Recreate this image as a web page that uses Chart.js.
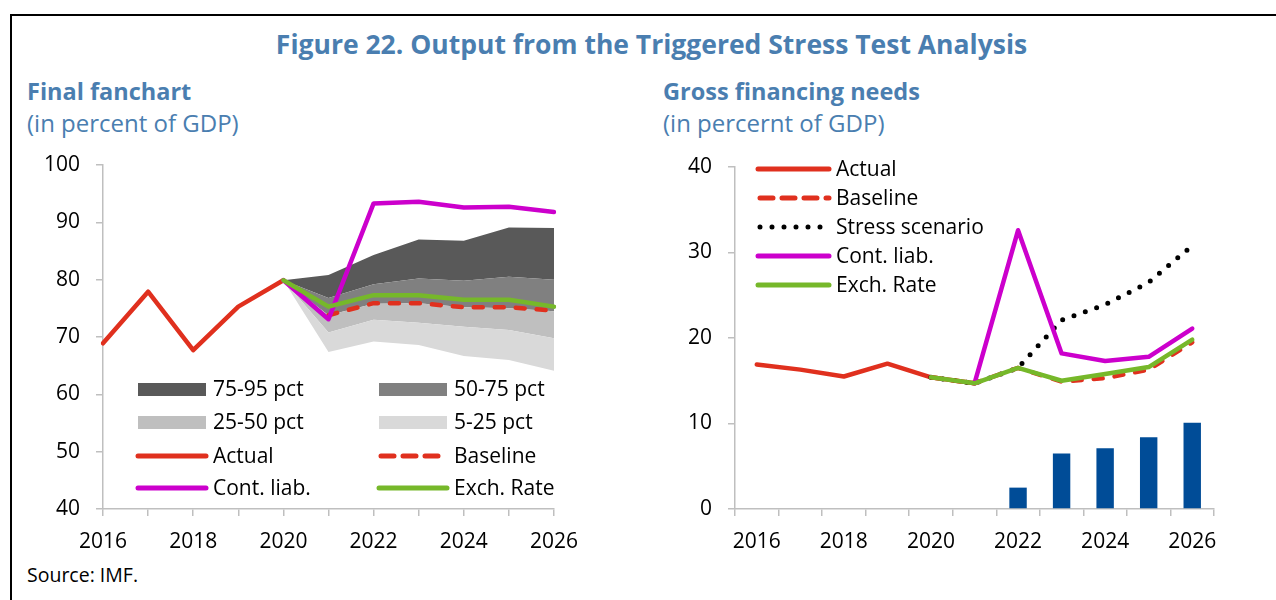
<!DOCTYPE html>
<html>
<head>
<meta charset="utf-8">
<script src="https://cdn.jsdelivr.net/npm/chart.js@4.4.1/dist/chart.umd.min.js"></script>
<style>
  body { margin: 0; background: #fff; font-family: 'Open Sans', sans-serif; }
  #page { position: relative; width: 1276px; height: 600px; overflow: hidden; }
  .frame { position: absolute; left: 10px; top: 14px; width: 1300px; height: 620px;
           border-left: 2px solid #000; border-top: 2px solid #000; }
  .txt { position: absolute; white-space: nowrap; line-height: 1; }
  .blue { color: #4a7eb0; }
  .bold { font-weight: 700; }
  .leg { position: absolute; font-size: 21px; line-height: 1; white-space: nowrap; color: #000; }
  .swatch { position: absolute; width: 68px; height: 13px; }
  canvas { position: absolute; }
</style>
</head>
<body>
<div id="page">
  <div class="frame"></div>
  <div class="txt blue bold" style="left:0; width:1303px; text-align:center; top:31px; font-size:26.5px;">Figure 22. Output from the Triggered Stress Test Analysis</div>
  <div class="txt blue bold" style="left:27px; top:80px; font-size:23.5px;">Final fanchart</div>
  <div class="txt blue" style="left:27px; top:111px; font-size:24px;">(in percent of GDP)</div>
  <div class="txt blue bold" style="left:663px; top:80px; font-size:23.5px;">Gross financing needs</div>
  <div class="txt blue" style="left:663px; top:111px; font-size:24px;">(in percernt of GDP)</div>
  <div class="txt" style="left:27px; top:565px; font-size:19.5px;">Source: IMF.</div>

  <canvas id="fanchart" width="590" height="410" style="left:20px; top:150px;"></canvas>
  <canvas id="gfnchart" width="610" height="410" style="left:640px; top:150px;"></canvas>

  <!-- left legend -->
  <div id="leftLegend"></div>
  <!-- right legend -->
  <div id="rightLegend"></div>
</div>

<script>
// ---- data ----
var years = ['2016', '2017', '2018', '2019', '2020', '2021', '2022', '2023', '2024', '2025', '2026'];

// Final fanchart (percent of GDP)
var fanP5  = [null, null, null, null, 79.9, 67.4, 69.2, 68.6, 66.7, 66.0, 64.1];
var fanP25 = [null, null, null, null, 79.9, 70.8, 73.0, 72.5, 71.8, 71.2, 69.8];
var fanP50 = [null, null, null, null, 79.9, 73.8, 75.8, 75.9, 75.2, 75.0, 74.5];
var fanP75 = [null, null, null, null, 79.9, 76.8, 79.2, 80.2, 79.8, 80.5, 80.0];
var fanP95 = [null, null, null, null, 79.9, 80.8, 84.3, 87.0, 86.8, 89.1, 89.0];
var debtActual   = [68.9, 77.9, 67.7, 75.3, 79.9, null, null, null, null, null, null];
var debtBaseline = [null, null, null, null, null, 73.8, 75.9, 75.9, 75.2, 75.2, 74.6];
var debtContLiab = [null, null, null, null, 79.9, 73.1, 93.3, 93.6, 92.6, 92.7, 91.8];
var debtExchRate = [null, null, null, null, 79.9, 75.3, 77.3, 77.3, 76.5, 76.5, 75.3];

// Gross financing needs (percent of GDP)
var gfnActual   = [16.9, 16.3, 15.5, 17.0, 15.4, 14.7, null, null, null, null, null];
var gfnBaseline = [null, null, null, null, 15.4, 14.7, 16.5, 14.9, 15.3, 16.3, 19.5];
var gfnStress   = [null, null, null, null, 15.4, 14.7, 16.5, 22.1, 23.9, 26.5, 30.8];
var gfnContLiab = [null, null, null, null, null, 14.7, 32.6, 18.2, 17.3, 17.8, 21.1];
var gfnExchRate = [null, null, null, null, 15.4, 14.7, 16.5, 15.0, 15.8, 16.6, 19.8];
var gfnBars     = [null, null, null, null, null, null, 2.5, 6.5, 7.1, 8.4, 10.1];

var leftTicks = [40, 50, 60, 70, 80, 90, 100];
var rightTicks = [0, 10, 20, 30, 40];

// ---- colours ----
var RED = '#e0301e', MAGENTA = '#cc00cc', GREEN = '#76b82a', NAVY = '#004c97';
var BAND95 = '#595959', BAND75 = '#808080', BAND50 = '#bfbfbf', BAND25 = '#d9d9d9';
var AXIS = '#bfbfbf';

Chart.defaults.font.family = "'Open Sans', sans-serif";
Chart.defaults.font.size = 21;
Chart.defaults.color = '#000';
Chart.defaults.animation = false;

function lineSet(label, data, color, order, extra) {
    var ds = {
        type: 'line', label: label, data: data,
        borderColor: color, backgroundColor: color,
        borderWidth: 4.5, pointRadius: 0, tension: 0,
        borderCapStyle: 'round', borderJoinStyle: 'round',
        fill: false, order: order
    };
    for (var k in extra) ds[k] = extra[k];
    return ds;
}

function bandSet(label, data, color, fill) {
    return {
        type: 'line', label: label, data: data,
        borderWidth: 0, borderColor: 'rgba(0,0,0,0)', backgroundColor: color,
        pointRadius: 0, tension: 0, fill: fill, order: 10
    };
}

function axisX(labelsEvery, offset) {
    return {
        offset: offset,
        grid: { offset: offset, drawOnChartArea: false, drawTicks: true, tickLength: 7, color: AXIS, lineWidth: 1.5 },
        border: { color: AXIS, width: 1.5 },
        ticks: {
            autoSkip: false, maxRotation: 0, padding: 13,
            callback: function (v, i) { return i % labelsEvery ? '' : years[i]; }
        },
        afterFit: function (s) { s.height = 51; }
    };
}

function axisY(min, max, width) {
    return {
        min: min, max: max,
        grid: { drawOnChartArea: false, drawTicks: true, tickLength: 7, color: AXIS, lineWidth: 1.5 },
        border: { color: AXIS, width: 1.5 },
        ticks: { stepSize: 10, padding: 16 },
        // fixed width; let layout.padding decide the top of the plot
        afterFit: function (s) { s.width = width; s.paddingTop = 0; s.paddingBottom = 0; }
    };
}

// Final fanchart
new Chart(document.getElementById('fanchart'), {
    type: 'line',
    data: {
        labels: years,
        datasets: [
            bandSet('p5', fanP5, 'rgba(0,0,0,0)', false),
            bandSet('5-25 pct', fanP25, BAND25, '-1'),
            bandSet('25-50 pct', fanP50, BAND50, '-1'),
            bandSet('50-75 pct', fanP75, BAND75, '-1'),
            bandSet('75-95 pct', fanP95, BAND95, '-1'),
            lineSet('Actual', debtActual, RED, 4),
            lineSet('Baseline', debtBaseline, RED, 3, { borderDash: [9, 12] }),
            lineSet('Cont. liab.', debtContLiab, MAGENTA, 2),
            lineSet('Exch. Rate', debtExchRate, GREEN, 1)
        ]
    },
    options: {
        responsive: false,
        layout: { padding: { top: 15, right: 56, left: 0, bottom: 0 } },
        plugins: { legend: { display: false }, tooltip: { enabled: false } },
        scales: { x: axisX(2, false), y: axisY(leftTicks[0], leftTicks[leftTicks.length - 1], 83) }
    }
});

// Gross financing needs
new Chart(document.getElementById('gfnchart'), {
    type: 'bar',
    data: {
        labels: years,
        datasets: [
            { type: 'bar', label: 'Shock', data: gfnBars, backgroundColor: NAVY,
              barPercentage: 0.4, categoryPercentage: 1, order: 10 },
            lineSet('Actual', gfnActual, RED, 5),
            lineSet('Stress scenario', gfnStress, '#000', 4, { borderDash: [0, 12], borderWidth: 5 }),
            lineSet('Baseline', gfnBaseline, RED, 3, { borderDash: [9, 12] }),
            lineSet('Cont. liab.', gfnContLiab, MAGENTA, 2),
            lineSet('Exch. Rate', gfnExchRate, GREEN, 1)
        ]
    },
    options: {
        responsive: false,
        layout: { padding: { top: 17, right: 36, left: 0, bottom: 0 } },
        plugins: { legend: { display: false }, tooltip: { enabled: false } },
        scales: { x: axisX(2, true), y: axisY(rightTicks[0], rightTicks[rightTicks.length - 1], 95) }
    }
});

// ---- legends (html) ----
function sample(kind, color, w) {
    var svg = '<svg width="' + (w + 6) + '" height="14" style="position:absolute;left:-3px;top:0">';
    if (kind === 'solid')
        svg += '<line x1="3" y1="7" x2="' + (w + 3) + '" y2="7" stroke="' + color + '" stroke-width="5" stroke-linecap="round"/>';
    else if (kind === 'dash')
        svg += '<line x1="5" y1="7" x2="' + (w + 3) + '" y2="7" stroke="' + color + '" stroke-width="5" stroke-linecap="round" stroke-dasharray="13 9"/>';
    else if (kind === 'dot')
        svg += '<line x1="5" y1="7" x2="' + (w + 3) + '" y2="7" stroke="' + color + '" stroke-width="5" stroke-linecap="round" stroke-dasharray="0 12"/>';
    return svg + '</svg>';
}

var leftItems = [
    { t: '75-95 pct', k: 'box', c: BAND95, x: 138, y: 389 },
    { t: '50-75 pct', k: 'box', c: BAND75, x: 379, y: 389 },
    { t: '25-50 pct', k: 'box', c: BAND50, x: 138, y: 422 },
    { t: '5-25 pct', k: 'box', c: BAND25, x: 379, y: 422 },
    { t: 'Actual', k: 'solid', c: RED, x: 138, y: 456 },
    { t: 'Baseline', k: 'dash', c: RED, x: 379, y: 456 },
    { t: 'Cont. liab.', k: 'solid', c: MAGENTA, x: 138, y: 488 },
    { t: 'Exch. Rate', k: 'solid', c: GREEN, x: 379, y: 488 }
];
var rightItems = [
    { t: 'Actual', k: 'solid', c: RED, x: 758, y: 169 },
    { t: 'Baseline', k: 'dash', c: RED, x: 758, y: 198 },
    { t: 'Stress scenario', k: 'dot', c: '#000', x: 758, y: 227 },
    { t: 'Cont. liab.', k: 'solid', c: MAGENTA, x: 758, y: 256 },
    { t: 'Exch. Rate', k: 'solid', c: GREEN, x: 758, y: 285 }
];

function buildLegend(el, items, sw) {
    var html = '';
    items.forEach(function (it) {
        if (it.k === 'box')
            html += '<div class="swatch" style="left:' + it.x + 'px;top:' + (it.y - 6.5) + 'px;background:' + it.c + '"></div>';
        else
            html += '<div style="position:absolute;left:' + it.x + 'px;top:' + (it.y - 7) + 'px;width:' + sw + 'px;height:14px">' + sample(it.k, it.c, sw) + '</div>';
        html += '<div class="leg" style="left:' + (it.x + sw + 7) + 'px;top:' + (it.y - 11) + 'px">' + it.t + '</div>';
    });
    el.innerHTML = html;
}
buildLegend(document.getElementById('leftLegend'), leftItems, 68);
buildLegend(document.getElementById('rightLegend'), rightItems, 71);
</script>
</body>
</html>
